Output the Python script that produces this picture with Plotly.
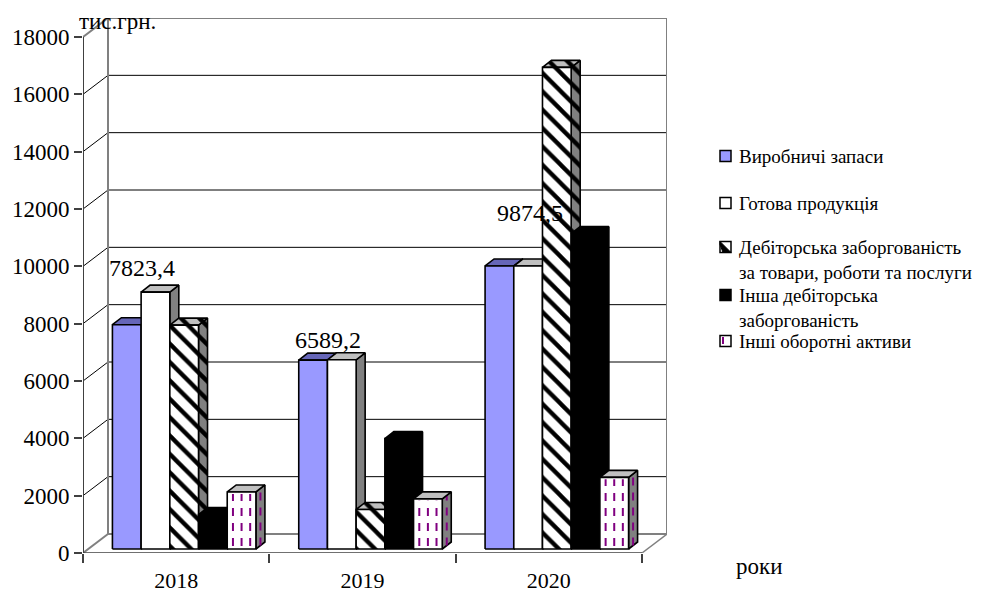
import plotly.graph_objects as go

# ---- data -------------------------------------------------------------
years = ["2018", "2019", "2020"]
series_names = [
    "Виробничі запаси",
    "Готова продукція",
    "Дебіторська заборгованість<br>за товари, роботи та послуги",
    "Інша дебіторська<br>заборгованість",
    "Інші оборотні активи",
]
production_stocks = [7823.4, 6589.2, 9874.5]
finished_goods = [8960, 6600, 9870]
trade_receivables = [7810, 1380, 16800]
other_receivables = [1200, 3850, 11000]
other_current_assets = [1990, 1750, 2500]
value_labels = ["7823,4", "6589,2", "9874,5"]
y_tick_values = [0, 2000, 4000, 6000, 8000, 10000, 12000, 14000, 16000, 18000]

series_values = [production_stocks, finished_goods, trade_receivables,
                 other_receivables, other_current_assets]

# ---- geometry (pixels) -------------------------------------------------
W, H = 996, 594
L, R, T, B = 83, 667, 18, 553          # plot area edges
FRONT_RIGHT = 642                        # right end of the front floor edge
WALL_DX, WALL_DY = 25, 19                # depth of the pseudo-3D box
BAR_FX, BAR_FY = 8, 4                    # bar front face behind front plane
BAR_DX, BAR_DY = 9, 7                    # bar depth
BAR_W = 28.7
FONT = "Liberation Serif, Times New Roman, Tinos, DejaVu Serif, serif"

PXU = (FRONT_RIGHT - L) / 3.0            # px per category unit
Y_TOP = max(y_tick_values)
VPX = Y_TOP / (B - WALL_DY - T)          # value units per px
X_RANGE = [-0.5, 2.5 + WALL_DX / PXU]
Y_RANGE = [0, Y_TOP + WALL_DY * VPX]


def ux(px):
    return px / PXU


def uy(px):
    return px * VPX


def paper_x(px):
    return (px - L) / (R - L)


def paper_y(py):
    return (B - py) / (B - T)


fig = go.Figure()


def poly(xs, ys, fill, line_color="black", width=1.6, pattern=None, xaxis="x"):
    kw = dict(x=list(xs) + [xs[0]], y=list(ys) + [ys[0]], mode="lines",
              fill="toself", fillcolor=fill,
              line=dict(color=line_color, width=width),
              hoverinfo="skip", showlegend=False, cliponaxis=False, xaxis=xaxis)
    if pattern is not None:
        kw["fillpattern"] = pattern
    fig.add_trace(go.Scatter(**kw))


def seg(xs, ys, color, width=1.0, dash=None, xaxis="x"):
    fig.add_trace(go.Scatter(x=xs, y=ys, mode="lines",
                             line=dict(color=color, width=width, dash=dash),
                             hoverinfo="skip", showlegend=False,
                             cliponaxis=False, xaxis=xaxis))


# ---- walls, floor and gridlines -----------------------------------------
wdx, wdy = ux(WALL_DX), uy(WALL_DY)
x_left, x_right = X_RANGE[0], 2.5
for v in y_tick_values:
    inner = 0 < v < Y_TOP
    col = "black" if inner else "#808080"
    w = 1.0 if inner else 2.0
    seg([x_left + wdx, x_right + wdx], [v + wdy, v + wdy], col, w)
    seg([x_left, x_left + wdx], [v, v + wdy], col, w)
seg([x_left + wdx, x_left + wdx], [wdy, Y_TOP + wdy], "#808080", 2.0)
seg([x_right + wdx, x_right + wdx], [wdy, Y_TOP + wdy], "#808080", 2.0)
seg([x_right, x_right + wdx], [0, wdy], "#808080", 1.5)
# front floor edge (on the tick axis) and the value axis line
seg([x_left, x_right], [0, 0], "#404040", 1.5, xaxis="x2")
seg([x_left, x_left], [0, Y_TOP], "#404040", 2.0)

# ---- bars -------------------------------------------------------------
bw = ux(BAR_W)
bdx, bdy = ux(BAR_DX), uy(BAR_DY)
base = uy(BAR_FY)

hatch = lambda bg: dict(shape="\\", bgcolor=bg, fgcolor="black",
                        size=13, solidity=0.33, fillmode="replace")

styles = [
    dict(front="#9999FF", top="#6666B8", side="#5050A0", pat=None, dash=False),
    dict(front="#FFFFFF", top="#C0C0C0", side="#808080", pat=None, dash=False),
    dict(front="#FFFFFF", top="#C0C0C0", side="#808080", pat="hatch", dash=False),
    dict(front="#000000", top="#000000", side="#000000", pat=None, dash=False),
    dict(front="#FFFFFF", top="#C0C0C0", side="#808080", pat=None, dash=True),
]

DASH = "8px,7px"
for i in range(len(years)):
    for j, vals in enumerate(series_values):
        st = styles[j]
        v = vals[i]
        x0 = i + ux(BAR_FX) + (j - 2.5) * bw
        x1 = x0 + bw
        y0, y1 = base, base + v
        pf = hatch(st["front"]) if st["pat"] else None
        pt = hatch(st["top"]) if st["pat"] else None
        ps = hatch(st["side"]) if st["pat"] else None
        # side face
        poly([x1, x1 + bdx, x1 + bdx, x1], [y0, y0 + bdy, y1 + bdy, y1],
             st["side"], pattern=ps)
        if st["dash"]:
            xm = x1 + bdx / 2
            seg([xm, xm], [y0 + bdy / 2, y1 + bdy / 2], "#800080", 2.0,
                dash=DASH)
        # top face
        poly([x0, x1, x1 + bdx, x0 + bdx], [y1, y1, y1 + bdy, y1 + bdy],
             st["top"], pattern=pt)
        # front face
        poly([x0, x1, x1, x0], [y0, y0, y1, y1], st["front"], pattern=pf)
        if st["dash"]:
            for f in (0.2, 0.5, 0.8):
                xm = x0 + f * bw
                seg([xm, xm], [y0 + uy(3), y1 - uy(2)], "#800080", 2.0,
                    dash=DASH)

# ---- value labels -------------------------------------------------------
label_shift = [(15, 57), (15, 20), (31, 53)]
for i, txt in enumerate(value_labels):
    xc = i + ux(BAR_FX) + (0 - 2.5) * bw + bw / 2
    fig.add_annotation(x=xc, y=base + production_stocks[i], text=txt,
                       showarrow=False, xanchor="center", yanchor="middle",
                       xshift=label_shift[i][0], yshift=label_shift[i][1],
                       font=dict(family=FONT, size=24, color="black"))

# ---- axis captions --------------------------------------------------------
fig.add_annotation(xref="paper", yref="paper", x=paper_x(77), y=paper_y(22),
                   text="тис.грн.", showarrow=False, xanchor="left",
                   yanchor="middle", font=dict(family=FONT, size=23, color="black"))
fig.add_annotation(xref="paper", yref="paper", x=paper_x(759), y=paper_y(566),
                   text="роки", showarrow=False, xanchor="center",
                   yanchor="middle", font=dict(family=FONT, size=23, color="black"))

# ---- legend ---------------------------------------------------------------
legend_rows = [156, 203, 247, 295, 341]
SQ = 11
icon_x0 = 720
for k, name in enumerate(series_names):
    yc = legend_rows[k]
    fig.add_annotation(xref="paper", yref="paper", x=paper_x(737),
                       y=paper_y(yc - 12), text=name, showarrow=False,
                       xanchor="left", yanchor="top", align="left",
                       font=dict(family=FONT, size=19, color="black"))
    ya, yb = paper_y(yc + SQ / 2), paper_y(yc - SQ / 2)
    xa, xb = paper_x(icon_x0), paper_x(icon_x0 + SQ)
    fill = styles[k]["front"]
    fig.add_shape(type="rect", xref="paper", yref="paper", x0=xa, x1=xb,
                  y0=ya, y1=yb, fillcolor=fill,
                  line=dict(color="black", width=1.5))
    if styles[k]["pat"]:
        fig.add_shape(type="path", xref="paper", yref="paper",
                      path=f"M {xa} {yb} L {xb} {ya} L {paper_x(icon_x0 + 3)} {ya} L {xa} {paper_y(yc - SQ / 2 + 3)} Z",
                      fillcolor="black", line=dict(color="black", width=1))
    if styles[k]["dash"]:
        fig.add_shape(type="line", xref="paper", yref="paper",
                      x0=paper_x(icon_x0 + 3), x1=paper_x(icon_x0 + 3),
                      y0=paper_y(yc + 3), y1=paper_y(yc - 4),
                      line=dict(color="#800080", width=2))

# ---- layout -----------------------------------------------------------------
fig.update_layout(
    width=W, height=H,
    margin=dict(l=L, r=W - R, t=T, b=H - B, pad=0, autoexpand=False),
    paper_bgcolor="white", plot_bgcolor="white",
    showlegend=False,
    font=dict(family=FONT),
    xaxis=dict(range=X_RANGE, tickvals=[0, 1, 2], ticktext=years,
               ticks="", showline=False, showgrid=False, zeroline=False,
               ticklabelstandoff=12, automargin=False,
               tickfont=dict(family=FONT, size=22, color="black")),
    xaxis2=dict(range=X_RANGE, overlaying="x", anchor="y",
                tickvals=[-0.5, 0.5, 1.5, 2.5], ticks="outside", ticklen=9,
                tickwidth=1.5, tickcolor="#404040", showticklabels=False,
                showline=False, showgrid=False, zeroline=False,
                automargin=False),
    yaxis=dict(range=Y_RANGE, tickvals=y_tick_values,
               ticktext=[str(v) for v in y_tick_values],
               ticks="outside", ticklen=8, tickwidth=1.5, tickcolor="#404040",
               showline=False, showgrid=False, zeroline=False,
               automargin=False,
               tickfont=dict(family=FONT, size=23, color="black")),
)

fig.write_html("out.html")
